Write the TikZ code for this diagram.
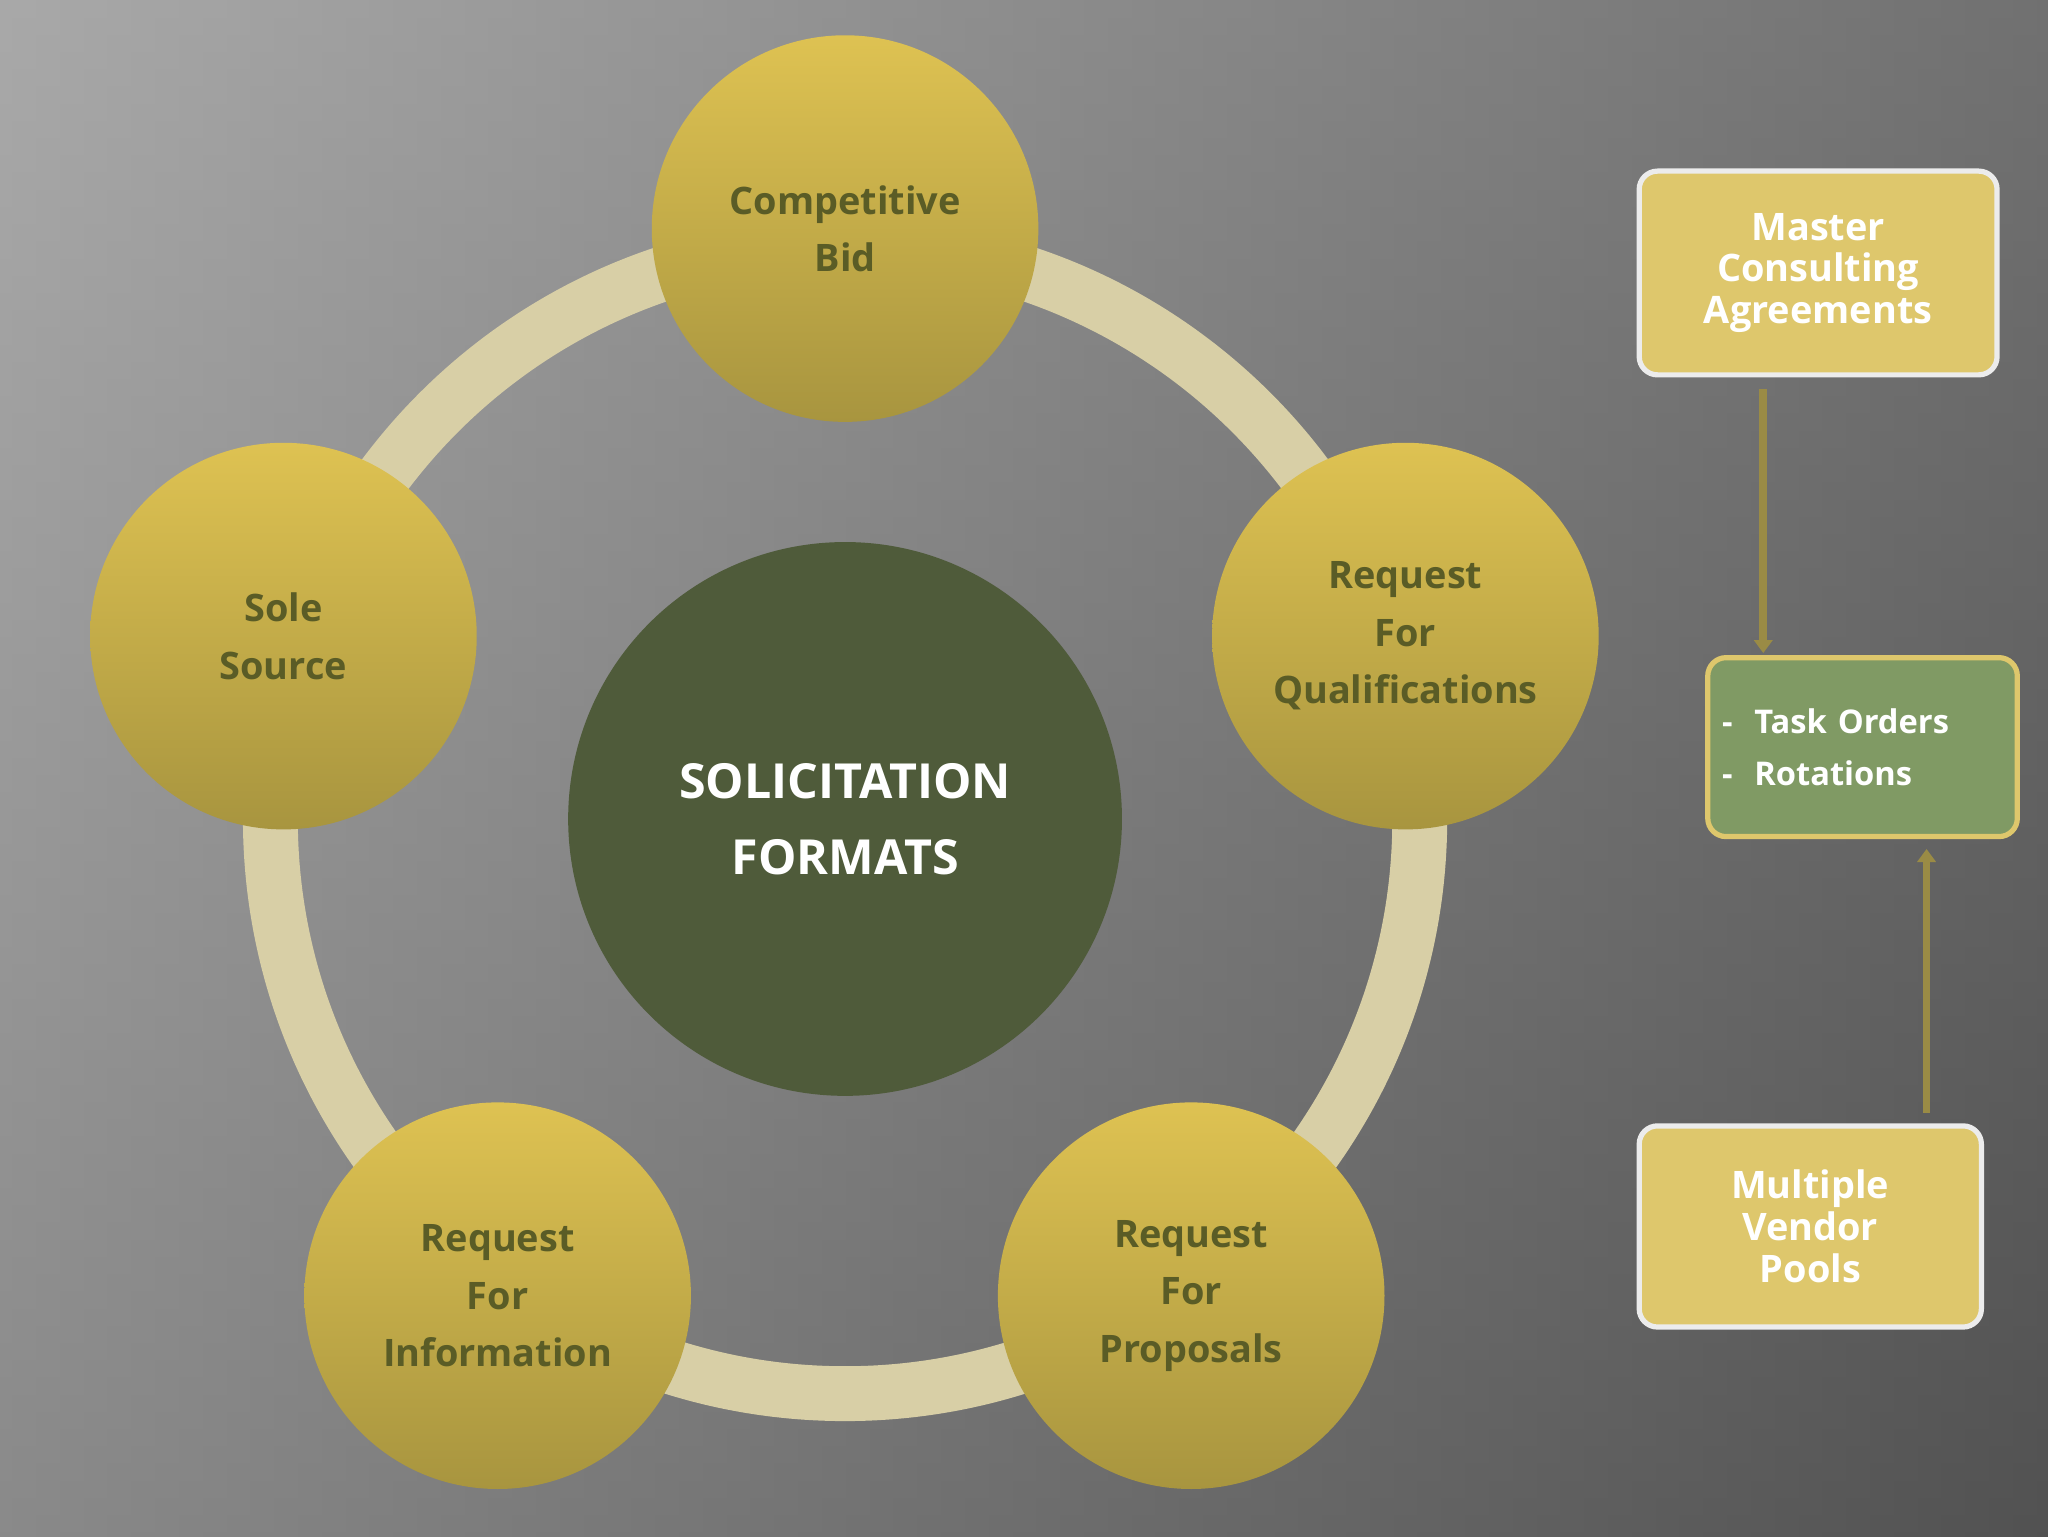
\documentclass[tikz,border=0pt]{standalone}
\usepackage{fontspec}
\setmainfont{Open Sans}
\usetikzlibrary{arrows.meta}
\definecolor{ring}{HTML}{D8CFA6}
\definecolor{gtop}{HTML}{DEC252}
\definecolor{gbot}{HTML}{A8953F}
\definecolor{olive}{HTML}{5A5C26}
\definecolor{dgreen}{HTML}{4F5B3A}
\definecolor{boxy}{HTML}{DEC76C}
\definecolor{boxg}{HTML}{809A64}
\definecolor{arr}{HTML}{9A8B45}
\definecolor{bgl}{HTML}{A4A4A4}
\definecolor{bgr}{HTML}{4E4E4E}
\tikzset{
  bub/.style={circle,minimum size=296pt,top color=gtop,bottom color=gbot,draw=none,text=olive,font=\fontsize{29}{44}\selectfont\bfseries,align=center,inner sep=0},
  rbox/.style={rounded corners=14pt,fill=boxy,draw=white!85!gray,line width=4pt,text=white,font=\fontsize{29}{32}\selectfont\bfseries,align=center,inner sep=0},
  arrw/.style={draw=arr,line width=6pt,-{Triangle[length=10pt,width=14pt]}}
}
\begin{document}
\begin{tikzpicture}[x=1pt,y=-1pt]
\useasboundingbox (0,0) rectangle (1568,1176);
\shade[left color=bgl,right color=bgr] (0,0) rectangle (1568,1176);
\shade[top color=black!30,bottom color=black!65,opacity=0.35] (0,0) rectangle (1568,1176);
\draw[ring,line width=42pt] (647,627) circle (440);
\node[circle,fill=dgreen,minimum size=424pt,text=white,font=\fontsize{37}{58}\selectfont\bfseries,align=center] (c) at (647,627) {SOLICITATION\\FORMATS};
\node[bub] (cb) at (647,175) {Competitive\\Bid};
\node[bub] (rfq) at (1076,487) {Request\\For\\Qualifications};
\node[bub] (rfp) at (912,992) {Request\\For\\Proposals};
\node[bub] (rfi) at (381,992) {Request\\For\\Information};
\node[bub] (ss) at (217,487) {Sole\\Source};
\node[rbox,minimum width=274pt,minimum height=156pt] (mca) at (1392,209) {Master\\Consulting\\Agreements};
\node[rbox,fill=boxg,draw=boxy,minimum width=237pt,minimum height=137pt,text width=215pt,align=left,font=\fontsize{25}{40}\selectfont\bfseries] (to) at (1426,572) {-\ \ Task Orders\\-\ \ Rotations};
\node[rbox,minimum width=262pt,minimum height=154pt] (mvp) at (1386,939) {Multiple\\Vendor\\Pools};
\coordinate (a1) at (1350,298);
\coordinate (a2) at (1350,500);
\coordinate (b1) at (1475,852);
\coordinate (b2) at (1475,650);
\draw[arrw] (a1) -- (a2);
\draw[arrw] (b1) -- (b2);
\end{tikzpicture}
\end{document}
